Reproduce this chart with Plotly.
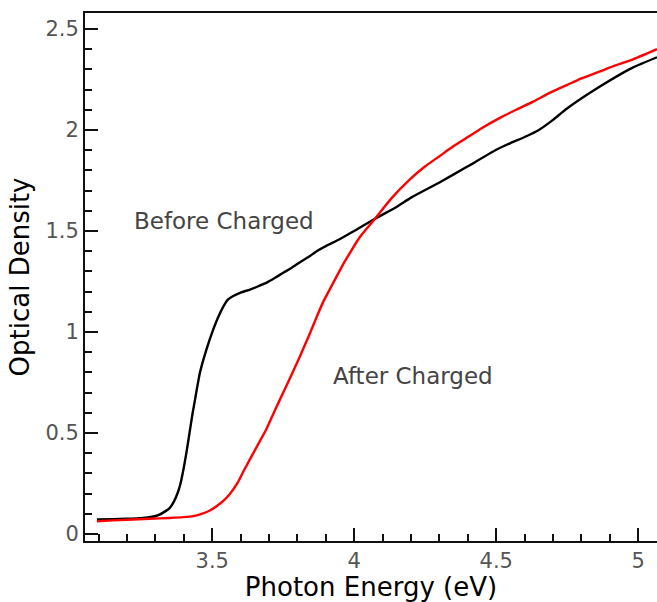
import plotly.graph_objects as go

# Before Charged (black)
before_x = [3.094, 3.15, 3.20, 3.25, 3.29, 3.31, 3.33, 3.35, 3.365, 3.38, 3.39, 3.40, 3.41, 3.42, 3.43, 3.44,
            3.457, 3.48, 3.503, 3.52, 3.539, 3.555, 3.574, 3.60, 3.633, 3.66, 3.69, 3.72, 3.75, 3.78, 3.809,
            3.84, 3.868, 3.90, 3.95, 4.00, 4.073, 4.15, 4.20, 4.30, 4.40, 4.50, 4.55, 4.60, 4.65, 4.70, 4.748,
            4.865, 4.982, 5.066]
before_y = [0.072, 0.073, 0.075, 0.078, 0.085, 0.093, 0.108, 0.128, 0.16, 0.21, 0.26, 0.33, 0.41, 0.50, 0.59, 0.67,
            0.80, 0.915, 1.01, 1.07, 1.125, 1.16, 1.178, 1.195, 1.21, 1.225, 1.243, 1.267, 1.293, 1.318, 1.345,
            1.372, 1.40, 1.425, 1.46, 1.50, 1.56, 1.62, 1.665, 1.74, 1.82, 1.902, 1.935, 1.965, 2.0, 2.05, 2.105,
            2.215, 2.31, 2.36]

# After Charged (red)
after_x = [3.094, 3.15, 3.20, 3.28, 3.35, 3.40, 3.433, 3.46, 3.49, 3.515, 3.54, 3.562, 3.59, 3.61, 3.633,
           3.66, 3.69, 3.72, 3.75, 3.78, 3.809, 3.84, 3.868, 3.891, 3.926, 3.955, 3.985, 4.02, 4.073, 4.13,
           4.196, 4.25, 4.30, 4.35, 4.40, 4.45, 4.513, 4.57, 4.63, 4.69, 4.748, 4.80, 4.865, 4.92, 4.982, 5.066]
after_y = [0.063, 0.067, 0.070, 0.075, 0.079, 0.083, 0.088, 0.098, 0.115, 0.137, 0.165, 0.198, 0.255, 0.31, 0.37,
           0.44, 0.517, 0.61, 0.70, 0.79, 0.88, 0.98, 1.075, 1.15, 1.243, 1.32, 1.392, 1.47, 1.56, 1.66,
           1.755, 1.82, 1.87, 1.92, 1.965, 2.01, 2.06, 2.10, 2.14, 2.185, 2.222, 2.255, 2.29, 2.32, 2.35, 2.40]

x_ticks = [3.5, 4, 4.5, 5]
x_tick_labels = ["3.5", "4", "4.5", "5"]
y_ticks = [0, 0.5, 1, 1.5, 2, 2.5]
y_tick_labels = ["0", "0.5", "1", "1.5", "2", "2.5"]

FONT = "DejaVu Sans"

fig = go.Figure()
fig.add_trace(go.Scatter(x=before_x, y=before_y, mode="lines", name="Before Charged",
                         line=dict(color="#000000", width=2.4, shape="spline", smoothing=0.5)))
fig.add_trace(go.Scatter(x=after_x, y=after_y, mode="lines", name="After Charged",
                         line=dict(color="#ff0000", width=2.4, shape="spline", smoothing=0.5)))

fig.add_annotation(x=3.543, y=1.547, text="Before Charged", showarrow=False,
                   font=dict(family=FONT, size=23, color="#444444"))
fig.add_annotation(x=4.207, y=0.78, text="After Charged", showarrow=False,
                   font=dict(family=FONT, size=23, color="#444444"))

fig.update_layout(
    width=657, height=602,
    margin=dict(l=85, r=0, t=13, b=61),
    plot_bgcolor="white", paper_bgcolor="white",
    showlegend=False,
    font=dict(family=FONT),
    xaxis=dict(
        range=[3.052, 5.066],
        tickvals=x_ticks, ticktext=x_tick_labels,
        ticks="inside", ticklen=13, tickwidth=2, tickcolor="#111111",
        minor=dict(dtick=0.1, tick0=3.0, ticks="inside", ticklen=7, tickwidth=2, tickcolor="#111111"),
        showline=True, linecolor="#111111", linewidth=2, mirror=True,
        showgrid=False, zeroline=False,
        tickfont=dict(family=FONT, size=21, color="#555555"),
        title=dict(text="Photon Energy (eV)", font=dict(family=FONT, size=26, color="#000000"), standoff=5),
    ),
    yaxis=dict(
        range=[-0.035, 2.579],
        tickvals=y_ticks, ticktext=y_tick_labels,
        ticks="inside", ticklen=13, tickwidth=2, tickcolor="#111111",
        minor=dict(dtick=0.1, tick0=0, ticks="inside", ticklen=7, tickwidth=2, tickcolor="#111111"),
        showline=True, linecolor="#111111", linewidth=2,
        showgrid=False, zeroline=False,
        tickfont=dict(family=FONT, size=21, color="#555555"),
        title=dict(text="Optical Density", font=dict(family=FONT, size=26, color="#000000"), standoff=8),
    ),
)

fig.write_html("out.html")
